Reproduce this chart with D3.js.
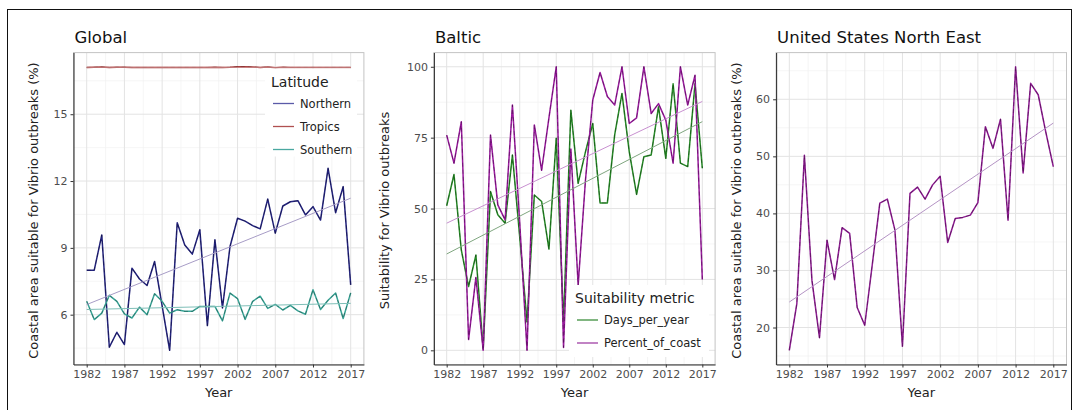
<!DOCTYPE html>
<html>
<head>
  <script src="https://cdn.jsdelivr.net/npm/d3@7"></script>
  <style>
    body { margin: 0; background: #fff; }
    text { font-family: "DejaVu Sans", sans-serif; }
  </style>
</head>
<body>
  <div id="fig"></div>
  <script>
    // values
    const years = [1982, 1983, 1984, 1985, 1986, 1987, 1988, 1989, 1990, 1991, 1992, 1993,
      1994, 1995, 1996, 1997, 1998, 1999, 2000, 2001, 2002, 2003, 2004, 2005,
      2006, 2007, 2008, 2009, 2010, 2011, 2012, 2013, 2014, 2015, 2016, 2017];
    const xTicks = [1982, 1987, 1992, 1997, 2002, 2007, 2012, 2017];

    const globalNorthern = [8.0, 8.0, 9.58, 4.54, 5.21, 4.66, 8.09, 7.6, 7.31, 8.39, 6.4, 4.4,
      10.13, 9.13, 8.72, 9.81, 5.51, 9.36, 6.3, 9.06, 10.33, 10.2, 10.0, 9.85,
      11.19, 9.66, 10.88, 11.07, 11.12, 10.48, 10.85, 10.25, 12.57, 10.58, 11.75, 7.34];
    const globalTropics = [17.10, 17.11, 17.12, 17.10, 17.11, 17.11, 17.10, 17.10, 17.10, 17.10, 17.10, 17.10,
      17.10, 17.10, 17.10, 17.10, 17.10, 17.11, 17.10, 17.11, 17.13, 17.13, 17.12, 17.10,
      17.12, 17.09, 17.11, 17.10, 17.10, 17.10, 17.10, 17.10, 17.10, 17.10, 17.10, 17.10];
    const globalSouthern = [6.6, 5.78, 6.07, 6.87, 6.6, 6.04, 5.85, 6.34, 6.0, 6.94, 6.6, 6.07,
      6.22, 6.15, 6.15, 6.37, 6.37, 6.37, 5.72, 6.97, 6.72, 5.79, 6.6, 6.83,
      6.28, 6.46, 6.21, 6.42, 6.17, 6.02, 7.12, 6.23, 6.65, 6.97, 5.83, 6.98];
    const globalTicks = [6, 9, 12, 15];

    const balticDays = [51, 62, 35.4, 22.5, 33.6, 0.5, 56, 47.8, 44.8, 68.9, 40, 10,
      54.8, 52.5, 35.7, 74.8, 10, 84.7, 58.9, 70, 80, 52, 52, 76,
      90.6, 70, 55, 68.3, 68.9, 85.9, 67.7, 94, 66, 64.8, 94, 64.2];
    const balticPercent = [75.9, 66, 80.6, 3.8, 25.7, 0, 75.9, 51.3, 46, 86.5, 45, 0,
      79.5, 63.5, 82, 100, 1, 71, 23, 60, 88.3, 98, 89.5, 86.5,
      100, 80, 82, 100, 83.5, 87, 81.2, 66, 100, 86.5, 97, 25];
    const balticTicks = [0, 25, 50, 75, 100];

    const usneCoast = [16.0, 24.2, 50.2, 28.3, 18.2, 35.3, 28.4, 37.5, 36.5, 23.5, 20.4, 31,
      41.8, 42.5, 37.1, 16.7, 43.5, 44.6, 42.5, 45, 46.5, 34.9, 39.1, 39.3,
      39.7, 41.9, 55.2, 51.4, 56.5, 38.8, 65.7, 47.1, 62.8, 60.8, 54.3, 48.2];
    const usneTicks = [20, 30, 40, 50, 60];

    const W = 1078, H = 410;
    const svg = d3.select("#fig").append("svg")
      .attr("width", W).attr("height", H);
    svg.append("rect").attr("width", W).attr("height", H).attr("fill", "#fff");

    // figure frame
    svg.append("rect")
      .attr("x", 7.5).attr("y", 9.5)
      .attr("width", 1064).attr("height", 420)
      .attr("fill", "none").attr("stroke", "#111").attr("stroke-width", 1);

    function linFit(xs, ys) {
      const mx = d3.mean(xs), my = d3.mean(ys);
      let num = 0, den = 0;
      xs.forEach((x, i) => { num += (x - mx) * (ys[i] - my); den += (x - mx) * (x - mx); });
      const b = num / den;
      return x => my + b * (x - mx);
    }

    function drawPanel(p) {
      const top = 52.6, bottom = 364.5;
      const x = d3.scaleLinear()
        .domain([1982 - 1.75, 2017 + 1.75])
        .range([p.left, p.right]);
      const all = [].concat(...p.series.map(s => s.vals));
      const ext = d3.extent(all);
      const pad = (ext[1] - ext[0]) * 0.05;
      const y = d3.scaleLinear().domain([ext[0] - pad, ext[1] + pad]).range([bottom, top]);

      const g = svg.append("g");

      // minor grid
      const step = p.yTicks[1] - p.yTicks[0];
      const xMinor = xTicks.slice(0, -1).map(t => t + 2.5);
      const yMinor = p.yTicks.map(t => t - step / 2)
        .concat([p.yTicks[p.yTicks.length - 1] + step / 2])
        .filter(v => v > y.domain()[0] && v < y.domain()[1]);
      g.selectAll(".xminor").data(xMinor).enter().append("line")
        .attr("x1", d => x(d)).attr("x2", d => x(d))
        .attr("y1", top).attr("y2", bottom)
        .attr("stroke", "#f1f1f1").attr("stroke-width", 0.7);
      g.selectAll(".yminor").data(yMinor).enter().append("line")
        .attr("x1", p.left).attr("x2", p.right)
        .attr("y1", d => y(d)).attr("y2", d => y(d))
        .attr("stroke", "#f1f1f1").attr("stroke-width", 0.7);
      // major grid
      g.selectAll(".xmajor").data(xTicks).enter().append("line")
        .attr("x1", d => x(d)).attr("x2", d => x(d))
        .attr("y1", top).attr("y2", bottom)
        .attr("stroke", "#e3e3e3").attr("stroke-width", 1);
      g.selectAll(".ymajor").data(p.yTicks).enter().append("line")
        .attr("x1", p.left).attr("x2", p.right)
        .attr("y1", d => y(d)).attr("y2", d => y(d))
        .attr("stroke", "#e3e3e3").attr("stroke-width", 1);

      // panel border
      g.append("rect")
        .attr("x", p.left).attr("y", top)
        .attr("width", p.right - p.left).attr("height", bottom - top)
        .attr("fill", "none").attr("stroke", "#c4c4c4").attr("stroke-width", 1);

      const line = d3.line().x((d, i) => x(years[i])).y(d => y(d));

      p.series.forEach(s => {
        g.append("path").datum(s.vals)
          .attr("d", line).attr("fill", "none")
          .attr("stroke", s.color).attr("stroke-width", 1.5)
          .attr("stroke-linejoin", "round");
        g.append("path").datum(s.vals)
          .attr("d", line).attr("fill", "none")
          .attr("stroke", "#000").attr("stroke-opacity", 0.35)
          .attr("stroke-width", 0.8).attr("stroke-dasharray", "4,3");
      });
      p.series.forEach(s => {
        const f = linFit(years, s.vals);
        g.append("line")
          .attr("x1", x(1982)).attr("y1", y(f(1982)))
          .attr("x2", x(2017)).attr("y2", y(f(2017)))
          .attr("stroke", s.trend).attr("stroke-width", 1);
      });

      // axes
      const ax = g.append("g").attr("transform", `translate(0,${bottom})`)
        .call(d3.axisBottom(x).tickValues(xTicks).tickFormat(d3.format("d"))
          .tickSizeInner(3).tickSizeOuter(0).tickPadding(3));
      const ay = g.append("g").attr("transform", `translate(${p.left},0)`)
        .call(d3.axisLeft(y).tickValues(p.yTicks).tickSizeInner(3).tickSizeOuter(0).tickPadding(3));
      [ax, ay].forEach(a => {
        a.select(".domain").attr("stroke", "#333").attr("stroke-width", 1.1);
        a.selectAll(".tick line").attr("stroke", "#333");
        a.selectAll(".tick text").attr("fill", "#4d4d4d")
          .style("font-size", "11px").style("font-family", "DejaVu Sans, sans-serif");
      });

      g.append("text").attr("x", (p.left + p.right) / 2).attr("y", 397)
        .attr("text-anchor", "middle").style("font-size", "13px").attr("fill", "#222")
        .text("Year");
      g.append("text")
        .attr("transform", `translate(${p.ytitleX},${(top + bottom) / 2 + 2}) rotate(-90)`)
        .attr("text-anchor", "middle").style("font-size", "13px").attr("fill", "#222")
        .text(p.ytitle);
      g.append("text").attr("x", p.left + 1).attr("y", 43)
        .style("font-size", "16.5px").attr("fill", "#111")
        .text(p.title);

      if (p.legend) {
        const L = p.legend;
        g.append("rect").attr("x", L.x - 6).attr("y", L.y - 18)
          .attr("width", L.w).attr("height", L.h).attr("fill", "#fff");
        g.append("text").attr("x", L.x).attr("y", L.y)
          .style("font-size", "14px").attr("fill", "#222").text(L.title);
        p.series.forEach((s, i) => {
          const yy = L.y + L.first + i * L.step;
          g.append("line").attr("x1", L.x + 2).attr("x2", L.x + 23)
            .attr("y1", yy).attr("y2", yy)
            .attr("stroke", s.key).attr("stroke-width", 1.3);
          g.append("text").attr("x", L.x + 29).attr("y", yy + 4)
            .style("font-size", "11.5px").attr("fill", "#222").text(s.name);
        });
      }
    }

    drawPanel({
      left: 73.5, right: 363.9, title: "Global", yTicks: globalTicks, ytitleX: 38,
      ytitle: "Coastal area suitable for Vibrio outbreaks (%)",
      series: [
        { name: "Northern", vals: globalNorthern, color: "#23237e", key: "#5a5aa8", trend: "#a79cc6" },
        { name: "Tropics", vals: globalTropics, color: "#a33535", key: "#b05050", trend: "#c88080" },
        { name: "Southern", vals: globalSouthern, color: "#3aa597", key: "#4aa8a0", trend: "#7fbfb8" }
      ],
      legend: { title: "Latitude", x: 271, y: 86.5, first: 17, step: 23, w: 92, h: 88 }
    });

    drawPanel({
      left: 433.9, right: 715.1, title: "Baltic", yTicks: balticTicks, ytitleX: 389,
      ytitle: "Suitability for Vibrio outbreaks",
      series: [
        { name: "Days_per_year", vals: balticDays, color: "#278a27", key: "#3d8f3d", trend: "#7fa67f" },
        { name: "Percent_of_coast", vals: balticPercent, color: "#9a1a9e", key: "#a040a5", trend: "#c890d0" }
      ],
      legend: { title: "Suitability metric", x: 575, y: 303, first: 17, step: 23, w: 140, h: 72 }
    });

    drawPanel({
      left: 776.1, right: 1066.5, title: "United States North East", yTicks: usneTicks, ytitleX: 741,
      ytitle: "Coastal area suitable for Vibrio outbreaks (%)",
      series: [
        { name: "Percent_of_coast", vals: usneCoast, color: "#8e1c92", key: "#8e1c92", trend: "#b493c4" }
      ]
    });
  </script>
</body>
</html>
